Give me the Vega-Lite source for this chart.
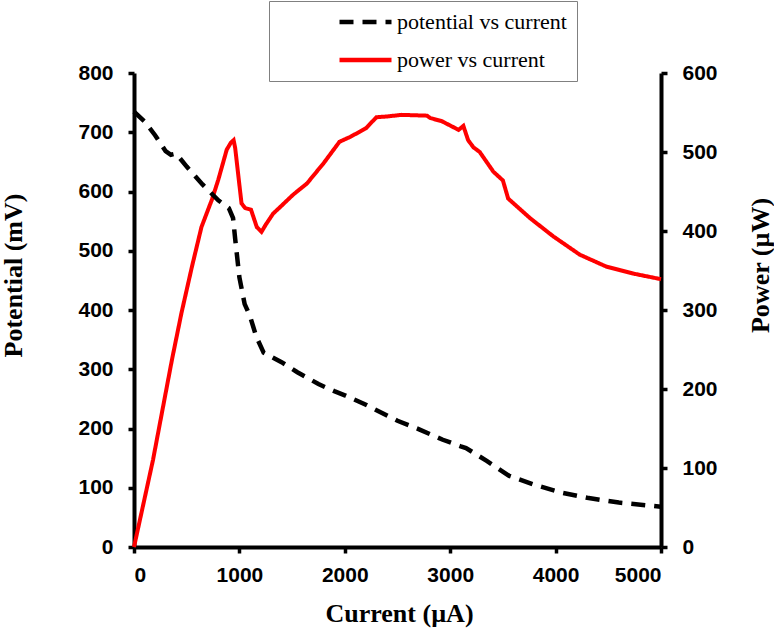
{
  "$schema": "https://vega.github.io/schema/vega-lite/v6.json",
  "width": 527,
  "height": 474,
  "autosize": {"type": "none"},
  "padding": {"left": 134, "top": 73, "right": 113, "bottom": 87},
  "background": "white",
  "config": {
    "view": {"stroke": null},
    "axis": {
      "domainColor": "black", "domainWidth": 4, "tickColor": "black", "tickWidth": 3.5, "tickSize": 6,
      "labelFont": "Liberation Sans", "labelFontWeight": "bold", "labelFontSize": 21, "labelColor": "black", "labelPadding": 15,
      "titleFont": "Liberation Serif", "titleFontWeight": "bold", "titleFontSize": 26, "titleColor": "black",
      "grid": false, "format": "d"
    },
    "legend": {
      "orient": "none", "legendX": 135, "legendY": -72, "strokeColor": "#808080", "fillColor": "white",
      "padding": 10, "symbolType": "stroke", "symbolSize": 2704, "symbolStrokeWidth": 4.5, "symbolOffset": 58,
      "labelOffset": 3, "labelFont": "Liberation Serif", "labelFontSize": 22, "labelColor": "black",
      "rowPadding": 16, "clipHeight": 22, "labelLimit": 400
    }
  },
  "data": {"values": [
    {"current": 0, "value": 735, "series": "potential vs current"},
    {"current": 100, "value": 718, "series": "potential vs current"},
    {"current": 200, "value": 695, "series": "potential vs current"},
    {"current": 300, "value": 668, "series": "potential vs current"},
    {"current": 350, "value": 662, "series": "potential vs current"},
    {"current": 400, "value": 664, "series": "potential vs current"},
    {"current": 500, "value": 642, "series": "potential vs current"},
    {"current": 650, "value": 612, "series": "potential vs current"},
    {"current": 800, "value": 585, "series": "potential vs current"},
    {"current": 900, "value": 572, "series": "potential vs current"},
    {"current": 940, "value": 555, "series": "potential vs current"},
    {"current": 960, "value": 520, "series": "potential vs current"},
    {"current": 1000, "value": 455, "series": "potential vs current"},
    {"current": 1050, "value": 410, "series": "potential vs current"},
    {"current": 1100, "value": 390, "series": "potential vs current"},
    {"current": 1160, "value": 355, "series": "potential vs current"},
    {"current": 1230, "value": 328, "series": "potential vs current"},
    {"current": 1400, "value": 312, "series": "potential vs current"},
    {"current": 1550, "value": 295, "series": "potential vs current"},
    {"current": 1750, "value": 275, "series": "potential vs current"},
    {"current": 1900, "value": 263, "series": "potential vs current"},
    {"current": 2000, "value": 256, "series": "potential vs current"},
    {"current": 2200, "value": 240, "series": "potential vs current"},
    {"current": 2500, "value": 213, "series": "potential vs current"},
    {"current": 2700, "value": 199, "series": "potential vs current"},
    {"current": 2930, "value": 181, "series": "potential vs current"},
    {"current": 3100, "value": 170, "series": "potential vs current"},
    {"current": 3150, "value": 167, "series": "potential vs current"},
    {"current": 3350, "value": 145, "series": "potential vs current"},
    {"current": 3560, "value": 120, "series": "potential vs current"},
    {"current": 3800, "value": 105, "series": "potential vs current"},
    {"current": 4050, "value": 92, "series": "potential vs current"},
    {"current": 4300, "value": 83, "series": "potential vs current"},
    {"current": 4600, "value": 75, "series": "potential vs current"},
    {"current": 5000, "value": 68, "series": "potential vs current"},
    {"current": 0, "value": 0, "series": "power vs current"},
    {"current": 180, "value": 110, "series": "power vs current"},
    {"current": 360, "value": 237, "series": "power vs current"},
    {"current": 450, "value": 296, "series": "power vs current"},
    {"current": 550, "value": 355, "series": "power vs current"},
    {"current": 640, "value": 405, "series": "power vs current"},
    {"current": 740, "value": 440, "series": "power vs current"},
    {"current": 800, "value": 465, "series": "power vs current"},
    {"current": 880, "value": 503, "series": "power vs current"},
    {"current": 920, "value": 512, "series": "power vs current"},
    {"current": 945, "value": 515, "series": "power vs current"},
    {"current": 960, "value": 505, "series": "power vs current"},
    {"current": 990, "value": 470, "series": "power vs current"},
    {"current": 1020, "value": 435, "series": "power vs current"},
    {"current": 1055, "value": 429, "series": "power vs current"},
    {"current": 1110, "value": 427, "series": "power vs current"},
    {"current": 1165, "value": 405, "series": "power vs current"},
    {"current": 1210, "value": 399, "series": "power vs current"},
    {"current": 1250, "value": 408, "series": "power vs current"},
    {"current": 1320, "value": 422, "series": "power vs current"},
    {"current": 1400, "value": 432, "series": "power vs current"},
    {"current": 1510, "value": 446, "series": "power vs current"},
    {"current": 1640, "value": 460, "series": "power vs current"},
    {"current": 1800, "value": 486, "series": "power vs current"},
    {"current": 1950, "value": 513, "series": "power vs current"},
    {"current": 2050, "value": 519, "series": "power vs current"},
    {"current": 2200, "value": 530, "series": "power vs current"},
    {"current": 2300, "value": 544, "series": "power vs current"},
    {"current": 2400, "value": 545, "series": "power vs current"},
    {"current": 2540, "value": 547, "series": "power vs current"},
    {"current": 2780, "value": 546, "series": "power vs current"},
    {"current": 2810, "value": 543, "series": "power vs current"},
    {"current": 2920, "value": 539, "series": "power vs current"},
    {"current": 3080, "value": 528, "series": "power vs current"},
    {"current": 3125, "value": 533, "series": "power vs current"},
    {"current": 3170, "value": 515, "series": "power vs current"},
    {"current": 3220, "value": 506, "series": "power vs current"},
    {"current": 3280, "value": 500, "series": "power vs current"},
    {"current": 3410, "value": 475, "series": "power vs current"},
    {"current": 3500, "value": 464, "series": "power vs current"},
    {"current": 3550, "value": 441, "series": "power vs current"},
    {"current": 3760, "value": 416, "series": "power vs current"},
    {"current": 3980, "value": 393, "series": "power vs current"},
    {"current": 4230, "value": 370, "series": "power vs current"},
    {"current": 4480, "value": 355, "series": "power vs current"},
    {"current": 4740, "value": 346, "series": "power vs current"},
    {"current": 5000, "value": 339, "series": "power vs current"}
  ]},
  "encoding": {
    "x": {"field": "current", "type": "quantitative", "scale": {"domain": [0, 5000], "nice": false},
      "axis": {"title": "Current (µA)", "values": [0, 1000, 2000, 3000, 4000, 5000], "labelPadding": 11, "format": "d",
        "titleX": 265, "titleY": 66, "titleBaseline": "middle", "titleAlign": "center"}},
    "color": {"field": "series", "type": "nominal",
      "scale": {"domain": ["potential vs current", "power vs current"], "range": ["black", "#ff0000"]},
      "legend": {"title": null}},
    "strokeDash": {"field": "series", "type": "nominal",
      "scale": {"domain": ["potential vs current", "power vs current"], "range": [[14, 9], [1, 0]]},
      "legend": {"title": null}}
  },
  "layer": [
    {
      "transform": [{"filter": "datum.series === 'power vs current'"}],
      "mark": {"type": "line", "strokeWidth": 4, "strokeCap": "butt"},
      "encoding": {
        "y": {"field": "value", "type": "quantitative", "scale": {"domain": [0, 600], "nice": false},
          "axis": {"orient": "right", "title": "Power (µW)", "values": [0, 100, 200, 300, 400, 500, 600], "format": "d",
            "titleAngle": 270, "titleX": 99, "titleY": 192, "titleBaseline": "middle", "titleAlign": "center"}}
      }
    },
    {
      "transform": [{"filter": "datum.series === 'potential vs current'"}],
      "mark": {"type": "line", "strokeWidth": 4.5, "strokeCap": "butt"},
      "encoding": {
        "y": {"field": "value", "type": "quantitative", "scale": {"domain": [0, 800], "nice": false},
          "axis": {"orient": "left", "title": "Potential (mV)", "values": [0, 100, 200, 300, 400, 500, 600, 700, 800], "format": "d",
            "titleAngle": 270, "titleX": -121, "titleY": 202, "titleBaseline": "middle", "titleAlign": "center"}}
      }
    }
  ],
  "resolve": {"scale": {"y": "independent"}}
}
